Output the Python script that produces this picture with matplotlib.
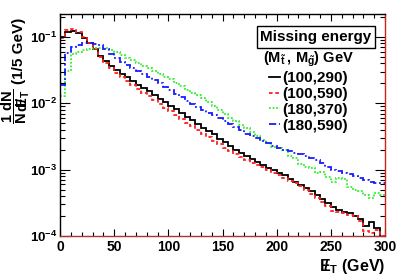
import matplotlib
matplotlib.use("Agg")
import matplotlib.pyplot as plt
import numpy as np
from matplotlib.ticker import MultipleLocator, LogLocator, FuncFormatter, NullFormatter
from matplotlib.lines import Line2D

plt.rcParams["font.family"] = ["Liberation Sans", "DejaVu Sans"]
plt.rcParams["font.weight"] = "bold"
plt.rcParams["mathtext.fontset"] = "custom"
plt.rcParams["mathtext.rm"] = "Liberation Sans:bold"
plt.rcParams["mathtext.bf"] = "Liberation Sans:bold"
plt.rcParams["mathtext.it"] = "Liberation Sans:bold"

# 5 GeV bins from 0 to 300 GeV
bin_edges = np.arange(0, 305, 5)

labels = ["(100,290)", "(100,590)", "(180,370)", "(180,590)"]
colors = ["black", "#ff2020", "#33ee33", "#1a1aff"]
styles = ["-", (0, (2, 1.5)), (0, (1, 1)), (0, (4, 1.5, 1, 1.5))]

h_100_290 = [
    0.100, 0.120, 0.122, 0.113, 0.098, 0.082, 0.066, 0.052, 0.044, 0.037,
    0.032, 0.028, 0.025, 0.022, 0.019, 0.0172, 0.0152, 0.0135, 0.0118, 0.0104,
    0.0092, 0.0081, 0.0071, 0.0062, 0.0056, 0.0049, 0.0043, 0.0038, 0.0034, 0.0029,
    0.0026, 0.0023, 0.0020, 0.0018, 0.0016, 0.00145, 0.0013, 0.00118, 0.00107, 0.00098,
    0.00088, 0.00082, 0.00072, 0.00065, 0.00058, 0.00052, 0.00048, 0.00042, 0.00036, 0.00031,
    0.00027, 0.00025, 0.00023, 0.00022, 0.00020, 0.00018, 0.00014, 0.00016, 0.00013, 0.00008,
]
h_100_590 = [
    0.095, 0.128, 0.130, 0.120, 0.100, 0.082, 0.065, 0.050, 0.041, 0.034,
    0.029, 0.025, 0.022, 0.019, 0.0165, 0.0145, 0.0127, 0.0112, 0.0098, 0.0086,
    0.0076, 0.0066, 0.0058, 0.0051, 0.0045, 0.0040, 0.0035, 0.0031, 0.0027, 0.0024,
    0.0021, 0.0019, 0.0017, 0.00155, 0.0014, 0.00128, 0.00117, 0.00108, 0.00098, 0.00090,
    0.00082, 0.00075, 0.00068, 0.00062, 0.00056, 0.00050, 0.00043, 0.00038, 0.00032, 0.00028,
    0.00024, 0.00023, 0.00022, 0.00021, 0.00020, 0.00017, 0.00012, 0.00011, 0.000125, 0.00010,
]
h_180_370 = [
    0.013, 0.031, 0.055, 0.060, 0.064, 0.066, 0.068, 0.068, 0.068, 0.064,
    0.059, 0.054, 0.049, 0.045, 0.041, 0.037, 0.034, 0.031, 0.028, 0.025,
    0.023, 0.020, 0.018, 0.016, 0.0144, 0.0134, 0.012, 0.0105, 0.0092, 0.0080,
    0.0070, 0.0061, 0.0054, 0.0047, 0.0042, 0.0037, 0.0032, 0.0028, 0.0025, 0.0022,
    0.0021, 0.0020, 0.0016, 0.0015, 0.0012, 0.0011, 0.00105, 0.00090, 0.00092, 0.00078,
    0.00066, 0.00074, 0.00072, 0.00055, 0.00050, 0.00047, 0.00042, 0.00038, 0.00045, 0.00041,
]
h_180_590 = [
    0.019, 0.058, 0.070, 0.076, 0.080, 0.081, 0.079, 0.075, 0.066, 0.056,
    0.048, 0.042, 0.038, 0.034, 0.031, 0.028, 0.025, 0.0225, 0.0200, 0.0178,
    0.0158, 0.0140, 0.0124, 0.0110, 0.0097, 0.0087, 0.0078, 0.0072, 0.0066, 0.0060,
    0.0055, 0.0049, 0.0044, 0.0039, 0.0035, 0.0032, 0.0030, 0.0027, 0.0025, 0.0023,
    0.0021, 0.0020, 0.0019, 0.0018, 0.0017, 0.0016, 0.0015, 0.0014, 0.00125, 0.0011,
    0.0010, 0.00095, 0.00090, 0.00085, 0.00080, 0.00074, 0.00070, 0.00066, 0.00062, 0.00064,
]
series = [h_100_290, h_100_590, h_180_370, h_180_590]

fig = plt.figure(figsize=(4.07, 2.77), dpi=100)
ax = fig.add_axes([60 / 407, 41 / 277, 325 / 407, 222 / 277])

for vals, c, ls in zip(series, colors, styles):
    ax.stairs(vals, bin_edges, color=c, linestyle=ls, linewidth=1.3, baseline=None)

ax.set_yscale("log")
ax.set_xlim(0, 300)
ax.set_ylim(1e-4, 0.222)

ax.xaxis.set_major_locator(MultipleLocator(50))
ax.xaxis.set_minor_locator(MultipleLocator(10))
ax.yaxis.set_major_locator(LogLocator(base=10, numticks=10))
ax.yaxis.set_minor_locator(LogLocator(base=10, subs=np.arange(2, 10), numticks=10))
ax.yaxis.set_minor_formatter(NullFormatter())
ax.yaxis.set_major_formatter(FuncFormatter(lambda v, p: r"$\mathbf{10^{%d}}$" % round(np.log10(v))))

ax.tick_params(which="both", direction="in", top=True, right=True, labelsize=10, width=0.8)
ax.tick_params(which="major", length=7)
ax.tick_params(which="minor", length=3.5)
ax.tick_params(axis="x", which="major", length=5, pad=3)
ax.tick_params(axis="x", which="minor", length=3)
ax.tick_params(axis="y", pad=2, labelsize=9.5)
for lab in ax.get_xticklabels() + ax.get_yticklabels():
    lab.set_fontweight("bold")

ax.spines["right"].set_color("#cc2222")
ax.spines["bottom"].set_color("#aa3333")
for sp in ax.spines.values():
    sp.set_linewidth(1.0)

ax.set_xlabel(r"$\mathbf{/\!\!\!\!E_{T}}$ (GeV)", fontsize=11.5, fontweight="bold",
              ha="right", x=1.0, labelpad=2)

fig.text(19 / 407, 1 - 18 / 277, "(1/5 GeV)", rotation=90, ha="center", va="top",
         fontsize=11, fontweight="bold")
fig.text(16 / 407, 1 - 106 / 277, r"$\mathbf{\dfrac{1}{N}\dfrac{dN}{d/\!\!\!\!E_{T}}}$",
         rotation=90, ha="center", va="center", fontsize=10.5, fontweight="bold")

fig.text(316 / 407, 1 - 37 / 277, "Missing energy", ha="center", va="center",
         fontsize=11, fontweight="bold",
         bbox=dict(boxstyle="square,pad=0.25", facecolor="white", edgecolor="black", linewidth=1.0))

handles = [Line2D([], [], color=c, linestyle=ls, linewidth=1.3) for c, ls in zip(colors, styles)]
leg = ax.legend(handles, labels, loc="upper left", bbox_to_anchor=(263 / 407, 1 - 50 / 277),
                bbox_transform=fig.transFigure, frameon=False, fontsize=11,
                handlelength=0.75, handletextpad=0.15, labelspacing=0.12, borderpad=0, borderaxespad=0,
                title=r"$\mathbf{(M_{\tilde{t}}\,,\,M_{\tilde{g}})}$ GeV", title_fontsize=10.5)
leg.get_title().set_fontweight("bold")
for t in leg.get_texts():
    t.set_fontweight("bold")

fig.savefig("out.png", dpi=100)
